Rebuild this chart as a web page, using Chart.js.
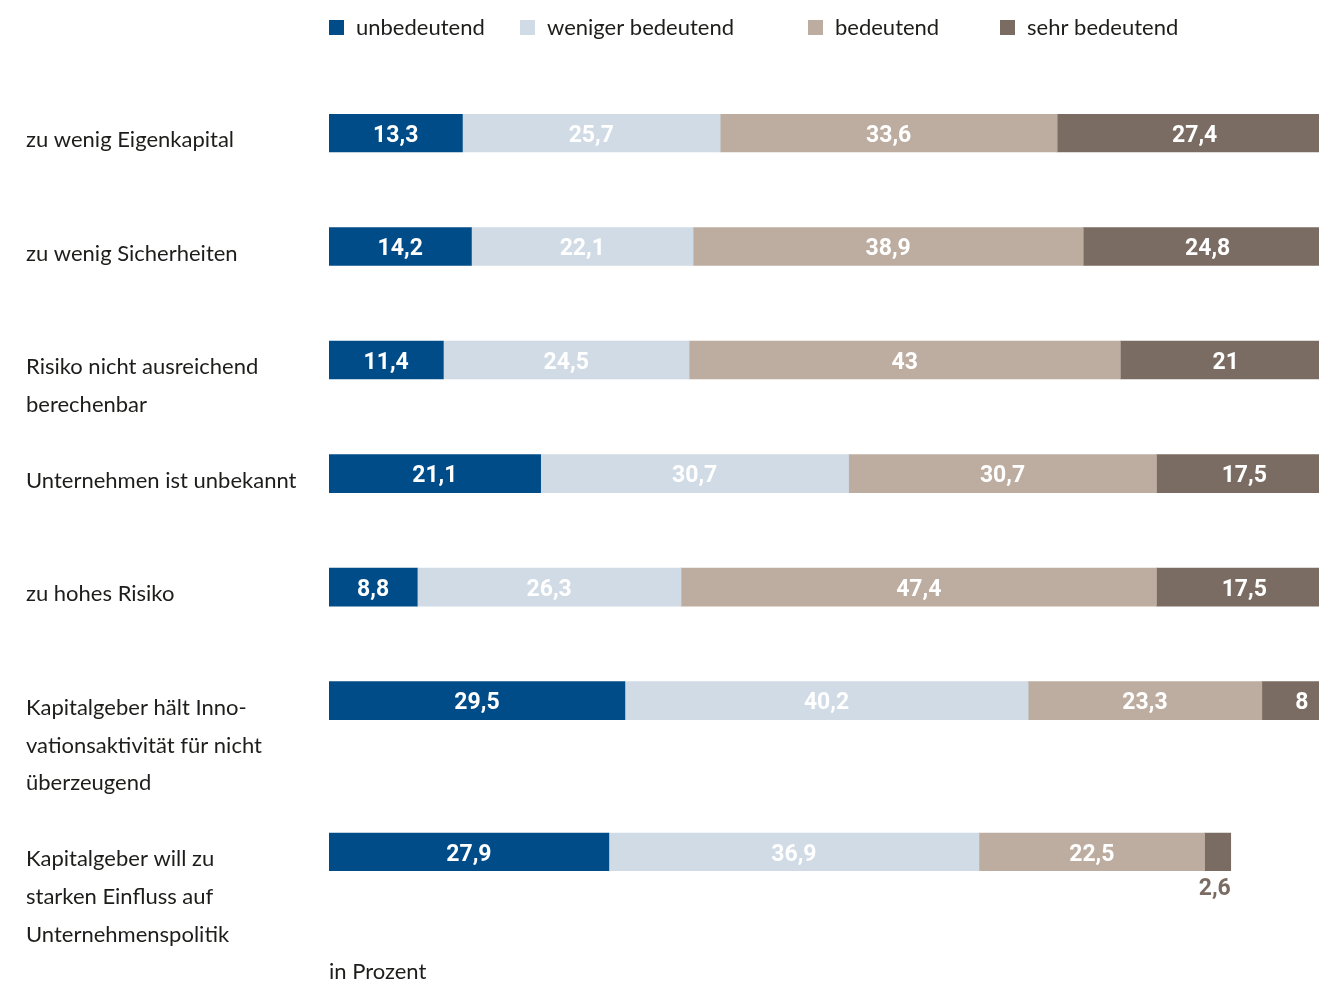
<!DOCTYPE html>
<html>
<head>
<meta charset="utf-8">
<script src="https://cdn.jsdelivr.net/npm/chart.js@4"></script>
<style>
  html, body { margin: 0; padding: 0; background: #fff; }
  #wrap { width: 1319px; height: 983px; position: relative; }
</style>
</head>
<body>
<div id="wrap"><canvas id="barriersChart"></canvas></div>
<script>
// Kategorien (mehrzeilige Beschriftungen)
const categories = [
    ['zu wenig Eigenkapital'],
    ['zu wenig Sicherheiten'],
    ['Risiko nicht ausreichend', 'berechenbar'],
    ['Unternehmen ist unbekannt'],
    ['zu hohes Risiko'],
    ['Kapitalgeber hält Inno-', 'vationsaktivität für nicht', 'überzeugend'],
    ['Kapitalgeber will zu', 'starken Einfluss auf', 'Unternehmenspolitik']
];

const seriesNames = ['unbedeutend', 'weniger bedeutend', 'bedeutend', 'sehr bedeutend'];

const unbedeutend      = [13.3, 14.2, 11.4, 21.1,  8.8, 29.5, 27.9];
const wenigerBedeutend = [25.7, 22.1, 24.5, 30.7, 26.3, 40.2, 36.9];
const bedeutend        = [33.6, 38.9, 43.0, 30.7, 47.4, 23.3, 22.5];
const sehrBedeutend    = [27.4, 24.8, 21.0, 17.5, 17.5,  8.0,  2.6];

const unitLabel = 'in Prozent';

const colors = ['#004c89', '#d0dbe5', '#bdada0', '#7a6c62'];
const textFont = '"Lato", "Open Sans", sans-serif';
const valueFont = 'bold 23px Roboto, sans-serif';

// rows sit on a slot grid: a row takes 3 slots, or one more than its label lines
const rowPos = [];
let slot = 0;
categories.forEach((lbl, i) => {
    if (i > 0) slot += Math.max(3, categories[i - 1].length + 1);
    rowPos.push(slot);
});

function fmt(v) {
    return String(v).replace('.', ',');
}

const labelsPlugin = {
    id: 'customLabels',
    afterDatasetsDraw(chart) {
        const ctx = chart.ctx;
        ctx.save();
        ctx.font = valueFont;
        ctx.textBaseline = 'middle';
        chart.data.datasets.forEach((ds, di) => {
            const meta = chart.getDatasetMeta(di);
            meta.data.forEach((bar, i) => {
                const v = ds.data[i].x;
                const txt = fmt(v);
                const w = Math.abs(bar.x - bar.base);
                const tw = ctx.measureText(txt).width;
                if (w < tw + 6) {
                    // too narrow: put value below the bar end
                    ctx.fillStyle = colors[di];
                    ctx.textAlign = 'right';
                    ctx.fillText(txt, Math.max(bar.x, bar.base), bar.y + bar.height / 2 + 18);
                } else {
                    ctx.fillStyle = '#ffffff';
                    ctx.textAlign = 'center';
                    ctx.fillText(txt, (bar.x + bar.base) / 2, bar.y + 3);
                }
            });
        });
        ctx.restore();
    },
    afterDraw(chart) {
        const ctx = chart.ctx;
        const y = chart.scales.y;
        const area = chart.chartArea;
        const lineH = Math.abs(y.getPixelForValue(1) - y.getPixelForValue(0));
        ctx.save();
        ctx.fillStyle = '#1d1d1b';
        ctx.font = '22px ' + textFont;
        ctx.textBaseline = 'middle';
        ctx.textAlign = 'left';

        // category labels on the left
        categories.forEach((lines, i) => {
            const cy = y.getPixelForValue(rowPos[i]);
            lines.forEach((line, j) => {
                ctx.fillText(line, 26, cy + 7 + j * lineH);
            });
        });

        // legend on top
        const legendX = [329, 520, 808, 1000];
        seriesNames.forEach((name, i) => {
            ctx.fillStyle = colors[i];
            ctx.fillRect(legendX[i], 20, 15, 15);
            ctx.fillStyle = '#1d1d1b';
            ctx.fillText(name, legendX[i] + 27, 28);
        });

        // unit note
        ctx.fillText(unitLabel, area.left, area.bottom + 101);
        ctx.restore();
    }
};

const valueLists = [unbedeutend, wenigerBedeutend, bedeutend, sehrBedeutend];

new Chart(document.getElementById('barriersChart'), {
    type: 'bar',
    data: {
        datasets: seriesNames.map((name, si) => ({
            label: name,
            data: valueLists[si].map((v, i) => ({ x: v, y: rowPos[i] })),
            backgroundColor: colors[si],
            borderWidth: 0,
            barThickness: 38
        }))
    },
    options: {
        indexAxis: 'y',
        responsive: true,
        maintainAspectRatio: false,
        animation: false,
        layout: {
            padding: { left: 329, right: 0, top: 114, bottom: 112 }
        },
        scales: {
            x: {
                stacked: true,
                min: 0,
                max: 98.7,
                display: false
            },
            y: {
                type: 'linear',
                stacked: true,
                reverse: true,
                offset: false,
                min: -0.5,
                max: rowPos[rowPos.length - 1] + 0.5,
                display: false
            }
        },
        plugins: {
            legend: { display: false },
            tooltip: { enabled: false }
        }
    },
    plugins: [labelsPlugin]
});
</script>
</body>
</html>
